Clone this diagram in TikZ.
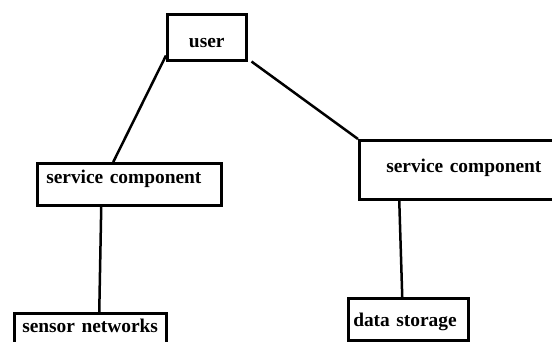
\documentclass[tikz,border=0pt]{standalone}
\usepackage{fontspec}
\setmainfont{Liberation Serif}
\usepackage{tikz}
\usetikzlibrary{positioning,calc}

\begin{document}
\begin{tikzpicture}[
    x=1pt, y=-1pt,
    compbox/.style={rectangle, draw=black, line width=2.5pt, anchor=north west, align=left, inner xsep=0pt, inner ysep=0pt, font=\bfseries\fontsize{19.4}{22}\selectfont},
    line width=2.5pt, black
    ]
    \clip (0,0) rectangle (552,341);

    %Nodes
    \node[compbox, align=center, text width=79pt, text height=33pt, text depth=13pt] (user) at (166,13) {user};
    \node[compbox, inner xsep=9pt,  text width=166pt, text height=20pt, text depth=22pt] (service1) at (36,162)  {service component};
    \node[compbox, inner xsep=27pt, text width=160pt, text height=32pt, text depth=27pt] (service2) at (358,139) {service component};
    \node[compbox, inner xsep=8pt,  text width=136pt, text height=19pt, text depth=19pt] (sensors)  at (13,312)  {sensor networks};
    \node[compbox, inner xsep=5pt,  text width=110pt, text height=28pt, text depth=14pt] (storage)  at (347,297) {data storage};

    %Lines
    \draw ([yshift=6pt]user.south west) -- ([xshift=-16pt]service1.north);
    \draw ([xshift=4pt]user.south east)  -- (service2.north west);
    \draw ([xshift=-28pt]service1.south) -- ([xshift=9pt]sensors.north);
    \draw ([xshift=-67pt]service2.south) -- ([xshift=-6pt]storage.north);
\end{tikzpicture}
\end{document}
